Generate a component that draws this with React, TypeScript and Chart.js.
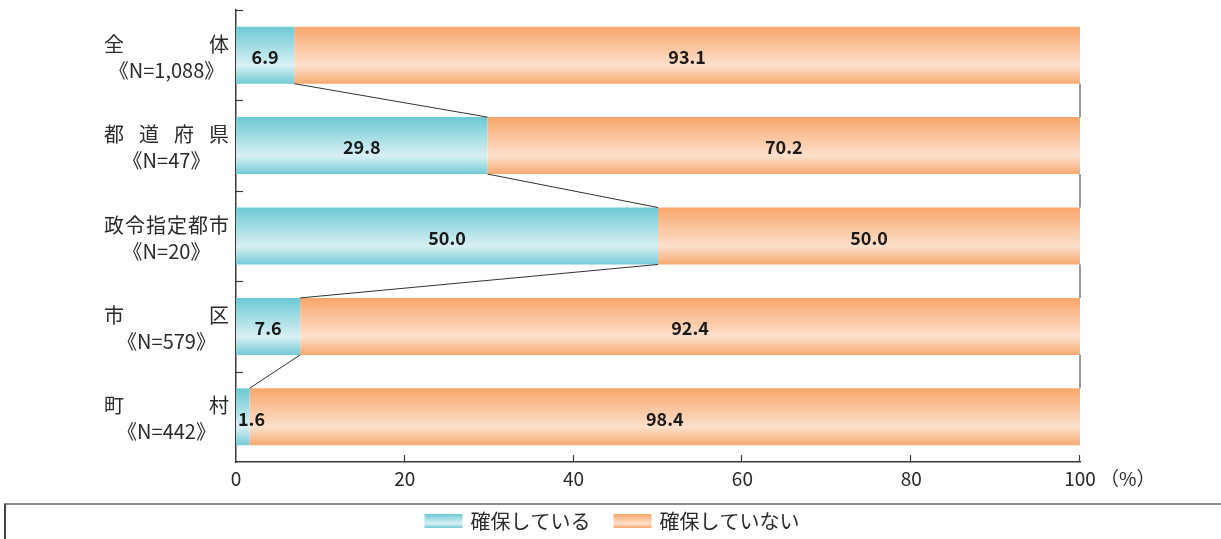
import React, { useEffect, useRef } from "react";
import { Chart, registerables } from "chart.js";

Chart.register(...registerables);

const categoryNames = ["全体", "都道府県", "政令指定都市", "市区", "町村"];
const sampleSizes = ["《N=1,088》", "《N=47》", "《N=20》", "《N=579》", "《N=442》"];
const securedValues = [6.9, 29.8, 50.0, 7.6, 1.6];
const notSecuredValues = [93.1, 70.2, 50.0, 92.4, 98.4];
const seriesNames = ["確保している", "確保していない"];
const xTickValues = [0, 20, 40, 60, 80, 100];
const xUnit = "（%）";

const JP = '"Noto Sans CJK JP", "Noto Sans", sans-serif';
const TEXT = "#2a2a2a";
const AXIS = "#3a3a3a";
const CAT_PCT = 0.63;

const cyanStops: [number, string][] = [
  [0, "#6cc9d5"],
  [0.68, "#d8f0f3"],
  [1, "#74cad6"],
];
const orangeStops: [number, string][] = [
  [0, "#f8a66b"],
  [0.68, "#fde0cc"],
  [1, "#f6a970"],
];

function makeGrad(c: any, stops: [number, string][]) {
  const chart = c.chart;
  const y = chart.scales && chart.scales.y;
  if (!y || c.dataIndex === undefined || !isFinite(y.getPixelForValue(0))) return stops[0][1];
  const center = y.getPixelForValue(c.dataIndex);
  const step = Math.abs(y.getPixelForValue(1) - y.getPixelForValue(0)) || 90;
  const h = (step * CAT_PCT) / 2;
  const g = chart.ctx.createLinearGradient(0, center - h, 0, center + h);
  stops.forEach(([o, col]) => g.addColorStop(o, col));
  return g;
}

const decorPlugin = {
  id: "decor",
  afterDatasetsDraw(chart: any) {
    const ctx = chart.ctx;
    const xs = chart.scales.x;
    const ys = chart.scales.y;
    const area = chart.chartArea;
    const m0 = chart.getDatasetMeta(0);
    const m1 = chart.getDatasetMeta(1);
    ctx.save();

    // connecting lines
    ctx.strokeStyle = "#333";
    ctx.lineWidth = 1;
    for (let i = 0; i < m0.data.length - 1; i++) {
      const a = m0.data[i];
      const b = m0.data[i + 1];
      ctx.beginPath();
      ctx.moveTo(a.x, a.y + a.height / 2);
      ctx.lineTo(b.x, b.y - b.height / 2);
      ctx.stroke();
      const c = m1.data[i];
      const d = m1.data[i + 1];
      ctx.beginPath();
      ctx.moveTo(c.x, c.y + c.height / 2);
      ctx.lineTo(d.x, d.y - d.height / 2);
      ctx.stroke();
    }

    // value labels
    ctx.font = `bold 18px ${JP}`;
    ctx.fillStyle = "#1a1a1a";
    ctx.textBaseline = "middle";
    [m0, m1].forEach((meta: any, di: number) => {
      const vals = di === 0 ? securedValues : notSecuredValues;
      meta.data.forEach((el: any, i: number) => {
        const txt = vals[i].toFixed(1);
        const w = ctx.measureText(txt).width;
        const left = Math.min(el.base, el.x);
        const right = Math.max(el.base, el.x);
        if (w + 4 > right - left) {
          ctx.textAlign = "left";
          ctx.fillText(txt, left + 2, el.y + 2);
        } else {
          ctx.textAlign = "center";
          ctx.fillText(txt, (left + right) / 2, el.y + 2);
        }
      });
    });

    // y labels
    ctx.fillStyle = TEXT;
    ctx.font = `20px ${JP}`;
    const L = 104;
    const R = 229;
    categoryNames.forEach((name, i) => {
      const cy = ys.getPixelForValue(i);
      const chars = Array.from(name);
      const n = chars.length;
      ctx.textAlign = "left";
      ctx.textBaseline = "middle";
      const cw = ctx.measureText(chars[0]).width;
      const sp = n > 1 ? (R - L - cw) / (n - 1) : 0;
      chars.forEach((ch, k) => {
        ctx.fillText(ch, L + k * sp, cy - 11);
      });
      ctx.textAlign = "center";
      ctx.fillText(sampleSizes[i], (L + R) / 2, cy + 15);
    });

    // y inward ticks at category boundaries
    ctx.strokeStyle = AXIS;
    ctx.lineWidth = 1.2;
    for (let i = 0; i < categoryNames.length; i++) {
      const yb = i === 0 ? area.top : (ys.getPixelForValue(i) + ys.getPixelForValue(i - 1)) / 2;
      const yy = Math.round(yb) + 0.5;
      ctx.beginPath();
      ctx.moveTo(area.left, yy);
      ctx.lineTo(area.left + 7, yy);
      ctx.stroke();
    }
    // x inward ticks
    xTickValues.forEach((v) => {
      if (v === 0) return;
      const xx = Math.round(xs.getPixelForValue(v)) - 0.5;
      ctx.beginPath();
      ctx.moveTo(xx, area.bottom);
      ctx.lineTo(xx, area.bottom - 7);
      ctx.stroke();
    });

    // unit
    ctx.font = `19px ${JP}`;
    ctx.fillStyle = TEXT;
    ctx.textAlign = "left";
    ctx.textBaseline = "middle";
    ctx.fillText(xUnit, xs.getPixelForValue(100) + 20, 479);

    // legend box
    ctx.strokeStyle = "#8a8a8a";
    ctx.lineWidth = 2;
    ctx.beginPath();
    ctx.moveTo(4, 504);
    ctx.lineTo(chart.width, 504);
    ctx.stroke();
    ctx.strokeStyle = "#444";
    ctx.beginPath();
    ctx.moveTo(5, 504);
    ctx.lineTo(5, chart.height);
    ctx.stroke();

    // legend items
    ctx.font = `20px ${JP}`;
    const sw = 38;
    const sh = 14;
    const gap = 8;
    const itemGap = 23;
    const widths = seriesNames.map((s) => ctx.measureText(s).width);
    const total = sw * 2 + gap * 2 + widths[0] + widths[1] + itemGap;
    let x = 612 - total / 2;
    const ly = 521;
    [cyanStops, orangeStops].forEach((stops, i) => {
      const g = ctx.createLinearGradient(0, ly - sh / 2, 0, ly + sh / 2);
      stops.forEach(([o, col]) => g.addColorStop(o, col));
      ctx.fillStyle = g;
      ctx.fillRect(x, ly - sh / 2, sw, sh);
      x += sw + gap;
      ctx.fillStyle = TEXT;
      ctx.textAlign = "left";
      ctx.fillText(seriesNames[i], x, ly);
      x += widths[i] + itemGap;
    });

    ctx.restore();
  },
};

export default function App() {
  const ref = useRef<HTMLCanvasElement>(null);
  useEffect(() => {
    if (!ref.current) return;
    const chart = new Chart(ref.current, {
      type: "bar",
      data: {
        labels: categoryNames,
        datasets: [
          {
            label: seriesNames[0],
            data: securedValues,
            backgroundColor: (c: any) => makeGrad(c, cyanStops),
            borderWidth: 0,
            barPercentage: 1,
            categoryPercentage: CAT_PCT,
          },
          {
            label: seriesNames[1],
            data: notSecuredValues,
            backgroundColor: (c: any) => makeGrad(c, orangeStops),
            borderWidth: 0,
            barPercentage: 1,
            categoryPercentage: CAT_PCT,
          },
        ],
      },
      options: {
        indexAxis: "y",
        responsive: false,
        animation: false,
        events: [],
        layout: { padding: { left: 0, right: 141, top: 10, bottom: 0 } },
        scales: {
          x: {
            stacked: true,
            min: 0,
            max: 100,
            ticks: {
              stepSize: 20,
              color: TEXT,
              font: { family: JP, size: 19 },
              padding: 5,
              maxRotation: 0,
            },
            grid: { display: false, drawTicks: false },
            border: { color: AXIS, width: 1.5 },
            afterFit: (s: any) => {
              s.height = 77;
            },
          },
          y: {
            stacked: true,
            ticks: { display: false },
            grid: { display: false, drawTicks: false },
            border: { color: AXIS, width: 1.5 },
            afterFit: (s: any) => {
              s.width = 236;
            },
          },
        },
        plugins: {
          legend: { display: false },
          tooltip: { enabled: false },
        },
      },
      plugins: [decorPlugin],
    } as any);
    return () => chart.destroy();
  }, []);
  return (
    <div style={{ position: "fixed", left: 0, top: 0, width: 1221, height: 539, background: "#fff" }}>
      <canvas ref={ref} width={1221} height={539} style={{ display: "block" }} />
    </div>
  );
}
